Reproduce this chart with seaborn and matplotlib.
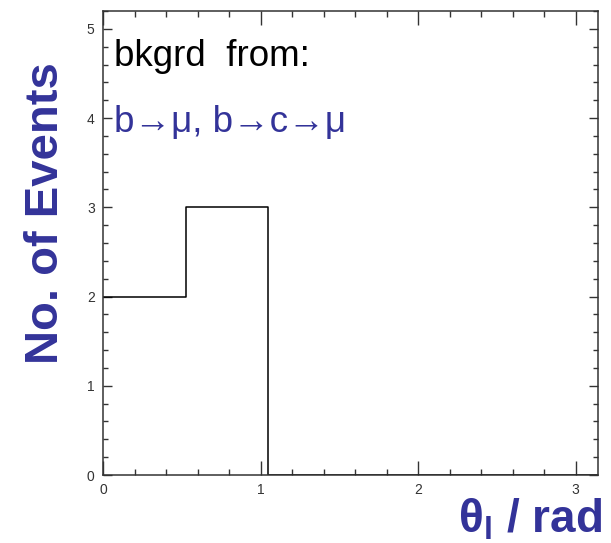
import numpy as np
import pandas as pd
import matplotlib
matplotlib.use('Agg')
import matplotlib.pyplot as plt
import seaborn as sns
from matplotlib.ticker import MultipleLocator

# histogram data: 6 bins of pi/6 over [0, pi]
n_bins = 6
bin_centres = [(i + 0.5) * np.pi / n_bins for i in range(n_bins)]
counts = [2, 3, 0, 0, 0, 0]

line1 = 'bkgrd  from:'
line2 = 'b\u2192\u03bc, b\u2192c\u2192\u03bc'
blue = '#333399'

sns.set_style('ticks')
plt.rcParams['font.family'] = ['Liberation Sans', 'DejaVu Sans']
plt.rcParams['mathtext.fontset'] = 'custom'
plt.rcParams['mathtext.bf'] = 'Liberation Sans:bold'
plt.rcParams['mathtext.rm'] = 'Liberation Sans'
plt.rcParams['mathtext.it'] = 'Liberation Sans:bold'

df = pd.DataFrame({'theta': bin_centres, 'n': counts})

fig = plt.figure(figsize=(6.11, 5.43), dpi=100)
ax = fig.add_axes([0.1686, 0.1252, 0.8101, 0.8545])
sns.histplot(data=df, x='theta', weights='n', bins=n_bins, binrange=(0, np.pi),
             element='step', fill=False, color='black', linewidth=1.1, ax=ax)

ax.set_xlim(0, np.pi)
ax.set_ylim(0, 5.2)
ax.xaxis.set_major_locator(MultipleLocator(1))
ax.xaxis.set_minor_locator(MultipleLocator(0.2))
ax.yaxis.set_major_locator(MultipleLocator(1))
ax.yaxis.set_minor_locator(MultipleLocator(0.2))
ax.tick_params(axis='both', which='both', direction='in', top=True, right=True,
               width=1.0, color='#333333', labelsize=10, labelcolor='#333333')
ax.tick_params(axis='x', which='major', length=10, pad=6)
ax.tick_params(axis='x', which='minor', length=4.5)
ax.tick_params(axis='y', which='major', length=6.5, pad=6)
ax.tick_params(axis='y', which='minor', length=3.5)
for s in ax.spines.values():
    s.set_linewidth(1.1)
    s.set_color('#333333')

ax.set_xlabel('')
ax.set_ylabel('No. of Events', fontsize=34, fontweight='bold', color=blue)
ax.yaxis.set_label_coords(-0.07, 0.565)
fig.text(0.985, 0.0, r'$\mathbf{\theta_{l}}$ / rad', fontsize=33, fontweight='bold',
         color=blue, ha='right', va='bottom')

ax.text(0.022, 0.902, line1, transform=ax.transAxes, fontsize=26.5,
        color='black', ha='left', va='center')
ax.text(0.022, 0.76, line2, transform=ax.transAxes, fontsize=26.5,
        color=blue, ha='left', va='center')

fig.savefig('out.png', dpi=100)
